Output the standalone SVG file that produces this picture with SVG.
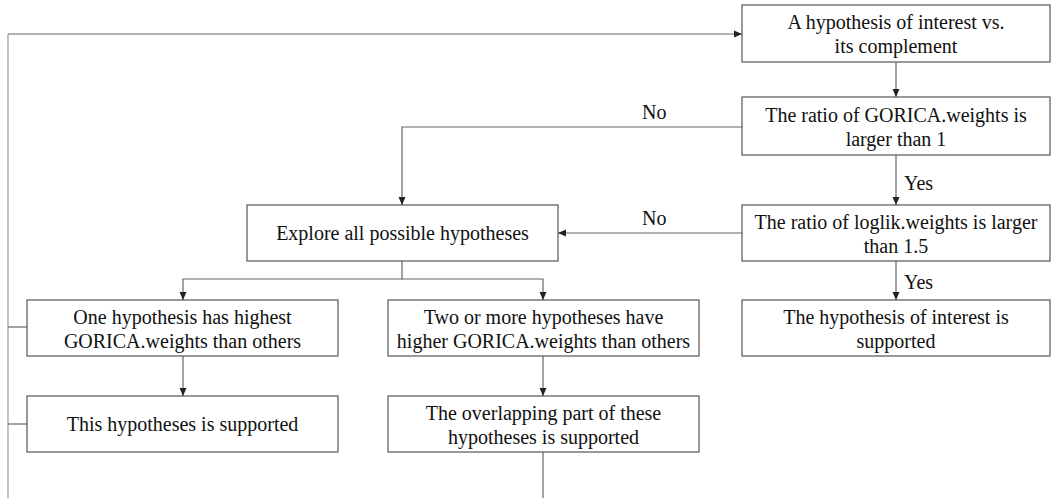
<svg xmlns="http://www.w3.org/2000/svg" width="1053" height="498" viewBox="0 0 1053 498">
  <style>
    .box { fill: #ffffff; stroke: #555555; stroke-width: 1.2; }
    .t { font-family: "Liberation Serif", "Times New Roman", serif; font-size: 20px; fill: #111111; text-anchor: middle; }
    .lbl { font-family: "Liberation Serif", "Times New Roman", serif; font-size: 20px; fill: #111111; }
    .edge { fill: none; stroke: #666666; stroke-width: 1.2; }
    .loop { fill: none; stroke: #b5b5b5; stroke-width: 1.6; }
  </style>
  <defs>
    <marker id="arrow" viewBox="0 0 8 8" refX="8" refY="4" markerWidth="8" markerHeight="8" markerUnits="userSpaceOnUse" orient="auto">
      <path d="M0,0.5 L8,4 L0,7.5 Z" fill="#222222"/>
    </marker>
  </defs>
  <rect width="1053" height="498" fill="#ffffff"/>

  <!-- connectors -->
  <g id="connectors">
    <!-- feedback loop back to the start -->
    <path class="loop" d="M8,498 V34"/>
    <path class="edge" d="M8,34 H742" stroke="#999999" marker-end="url(#arrow)"/>
    <path class="edge" d="M27,327 H8"/>
    <path class="edge" d="M27,424 H8"/>
    <path class="edge" d="M543,452 V498"/>
    <!-- main flow -->
    <path class="edge" d="M896,62 V97" marker-end="url(#arrow)"/>
    <path class="edge" d="M896,155 V205" marker-end="url(#arrow)"/>
    <path class="edge" d="M896,261 V300" marker-end="url(#arrow)"/>
    <path class="edge" d="M742,127 H402 V205" marker-end="url(#arrow)"/>
    <path class="edge" d="M742,233 H558" marker-end="url(#arrow)"/>
    <path class="edge" d="M402,261 V279 H183 V300" marker-end="url(#arrow)"/>
    <path class="edge" d="M402,279 H543 V300" marker-end="url(#arrow)"/>
    <path class="edge" d="M183,356 V396" marker-end="url(#arrow)"/>
    <path class="edge" d="M543,356 V396" marker-end="url(#arrow)"/>
    <!-- branch labels -->
    <text class="lbl" x="642" y="119">No</text>
    <text class="lbl" x="642" y="225">No</text>
    <text class="lbl" x="904" y="190">Yes</text>
    <text class="lbl" x="904" y="289">Yes</text>
  </g>

  <g id="start">
    <rect class="box" x="742" y="5" width="308" height="57"/>
    <text class="t" x="896" y="29">A hypothesis of interest vs.</text>
    <text class="t" x="896" y="53">its complement</text>
  </g>

  <g id="gorica-ratio">
    <rect class="box" x="742" y="97" width="308" height="58"/>
    <text class="t" x="896" y="122">The ratio of GORICA.weights is</text>
    <text class="t" x="896" y="146">larger than 1</text>
  </g>

  <g id="loglik-ratio">
    <rect class="box" x="742" y="205" width="308" height="56"/>
    <text class="t" x="896" y="229">The ratio of loglik.weights is larger</text>
    <text class="t" x="896" y="253">than 1.5</text>
  </g>

  <g id="interest-supported">
    <rect class="box" x="742" y="300" width="308" height="56"/>
    <text class="t" x="896" y="324">The hypothesis of interest is</text>
    <text class="t" x="896" y="348">supported</text>
  </g>

  <g id="explore">
    <rect class="box" x="247" y="205" width="311" height="56"/>
    <text class="t" x="402.5" y="240">Explore all possible hypotheses</text>
  </g>

  <g id="one-highest">
    <rect class="box" x="27" y="300" width="311" height="56"/>
    <text class="t" x="182.5" y="324">One hypothesis has highest</text>
    <text class="t" x="182.5" y="348">GORICA.weights than others</text>
  </g>

  <g id="two-or-more">
    <rect class="box" x="388" y="300" width="311" height="56"/>
    <text class="t" x="543.5" y="324">Two or more hypotheses have</text>
    <text class="t" x="543.5" y="348">higher GORICA.weights than others</text>
  </g>

  <g id="this-supported">
    <rect class="box" x="27" y="396" width="311" height="56"/>
    <text class="t" x="182.5" y="431">This hypotheses is supported</text>
  </g>

  <g id="overlap-supported">
    <rect class="box" x="388" y="396" width="311" height="56"/>
    <text class="t" x="543.5" y="420">The overlapping part of these</text>
    <text class="t" x="543.5" y="444">hypotheses is supported</text>
  </g>
</svg>
